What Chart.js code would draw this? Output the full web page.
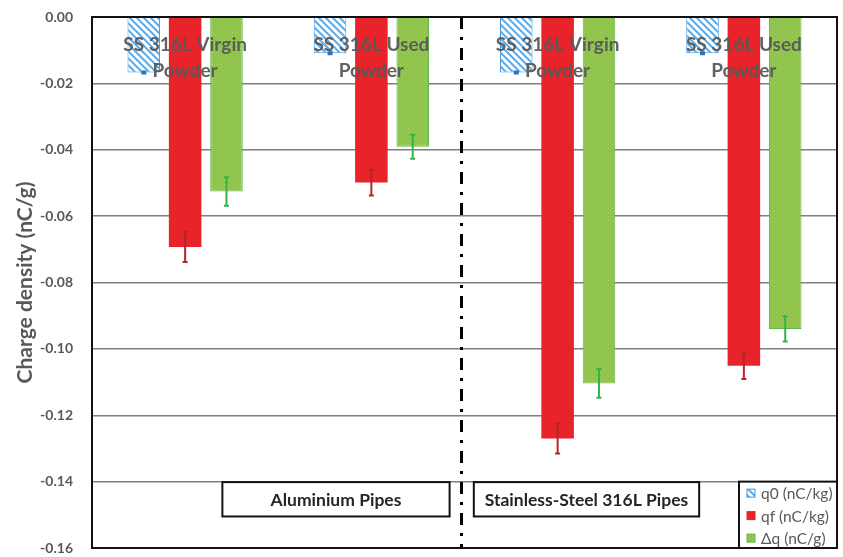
<!DOCTYPE html>
<html>
<head>
<meta charset="utf-8">
<script src="https://cdn.jsdelivr.net/npm/chart.js@4.4.1/dist/chart.umd.min.js"></script>
<style>
  html, body { margin: 0; padding: 0; background: #ffffff; }
  #wrap { width: 843px; height: 557px; position: relative; }
</style>
</head>
<body>
<div id="wrap"><canvas id="chart" width="843" height="557"></canvas></div>
<script>
// Powder samples (category axis)
const categories = [
  ["SS 316L Virgin", "Powder"],
  ["SS 316L Used", "Powder"],
  ["SS 316L Virgin", "Powder"],
  ["SS 316L Used", "Powder"]
];

// Series labels
const seriesLabels = ["q0 (nC/kg)", "qf (nC/kg)", "\u0394q (nC/g)"];

// Initial charge density q0
const q0Values = [-0.0167, -0.0109, -0.0167, -0.0109];
const q0Errors = [0.0003, 0.0003, 0.0003, 0.0003];

// Final charge density qf
const qfValues = [-0.0693, -0.0499, -0.1270, -0.1051];
const qfErrors = [0.0045, 0.0039, 0.0045, 0.0040];

// Charge gained during transport, delta q
const dqValues = [-0.0526, -0.0391, -0.1104, -0.0940];
const dqErrors = [0.0043, 0.0036, 0.0043, 0.0038];

// Pipe material groups (first two samples / last two samples)
const pipeGroups = ["Aluminium Pipes", "Stainless-Steel 316L Pipes"];

// Value axis
const yAxisTitle = "Charge density (nC/g)";
const yMin = -0.16, yMax = 0, yStep = 0.02;

const FONT = "Lato, 'Open Sans', sans-serif";
const GREY = "#595959";

// Blue diagonal hatching for q0
function hatchPattern() {
  const c = document.createElement("canvas");
  c.width = 7; c.height = 7;
  const g = c.getContext("2d");
  g.fillStyle = "#ffffff";
  g.fillRect(0, 0, 7, 7);
  g.strokeStyle = "#5badea";
  g.lineWidth = 2;
  g.beginPath();
  g.moveTo(-1, -1); g.lineTo(8, 8);
  g.moveTo(-8, -1); g.lineTo(1, 8);
  g.moveTo(6, -1); g.lineTo(15, 8);
  g.stroke();
  return g.createPattern(c, "repeat");
}

// Speckled green fill for delta q
function dottedPattern() {
  const c = document.createElement("canvas");
  c.width = 4; c.height = 4;
  const g = c.getContext("2d");
  g.fillStyle = "#8cc63f";
  g.fillRect(0, 0, 4, 4);
  g.fillStyle = "#a9d56e";
  g.fillRect(0, 0, 1, 1);
  g.fillRect(2, 2, 1, 1);
  return g.createPattern(c, "repeat");
}

const hatch = hatchPattern();
const dotted = dottedPattern();

// Error bars with short caps
const errorBars = {
  id: "errorBars",
  afterDatasetsDraw(chart) {
    const y = chart.scales.y;
    const ctx = chart.ctx;
    chart.data.datasets.forEach((ds, di) => {
      const meta = chart.getDatasetMeta(di);
      ctx.save();
      ctx.strokeStyle = ds.errorColor;
      ctx.lineWidth = 2;
      meta.data.forEach((bar, i) => {
        const v = ds.data[i], e = ds.errors[i];
        const y1 = y.getPixelForValue(v + e);
        const y2 = y.getPixelForValue(v - e);
        ctx.beginPath();
        ctx.moveTo(bar.x, y1); ctx.lineTo(bar.x, y2);
        ctx.moveTo(bar.x - 2.5, y1); ctx.lineTo(bar.x + 2.5, y1);
        ctx.moveTo(bar.x - 2.5, y2); ctx.lineTo(bar.x + 2.5, y2);
        ctx.stroke();
      });
      ctx.restore();
    });
  }
};

// Category names, group separator, group boxes, legend and frame
const overlay = {
  id: "overlay",
  afterDraw(chart) {
    const ctx = chart.ctx;
    const x = chart.scales.x, y = chart.scales.y;
    const a = chart.chartArea;
    ctx.save();

    // sample names written across the top of each group of bars
    ctx.fillStyle = "rgba(89,89,89,0.95)";
    ctx.font = "bold 19px " + FONT;
    ctx.textAlign = "center";
    ctx.textBaseline = "middle";
    categories.forEach((lines, i) => {
      const cx = x.getPixelForValue(i);
      lines.forEach((t, k) => ctx.fillText(t, cx, a.top + 28 + k * 26));
    });

    // dash-dot separator between the two pipe materials
    const sepX = (x.getPixelForValue(1) + x.getPixelForValue(2)) / 2 - 3;
    ctx.strokeStyle = "#000000";
    ctx.lineWidth = 3;
    ctx.setLineDash([12, 8, 3, 8]);
    ctx.beginPath();
    ctx.moveTo(sepX, a.top);
    ctx.lineTo(sepX, a.bottom);
    ctx.stroke();
    ctx.setLineDash([]);

    // pipe material boxes
    const boxTop = y.getPixelForValue(-0.14) + 0.5;
    const boxBot = y.getPixelForValue(-0.1505);
    const w = x.getPixelForValue(1) - x.getPixelForValue(0);
    const boxes = [
      [x.getPixelForValue(0) + 0.2 * w, x.getPixelForValue(1) + 0.42 * w],
      [x.getPixelForValue(2) - 0.45 * w, x.getPixelForValue(2) + 0.76 * w]
    ];
    ctx.lineWidth = 2;
    ctx.font = "bold 17.5px " + FONT;
    boxes.forEach((b, i) => {
      ctx.fillStyle = "#ffffff";
      ctx.fillRect(b[0], boxTop, b[1] - b[0], boxBot - boxTop);
      ctx.strokeStyle = "#111111";
      ctx.strokeRect(b[0], boxTop, b[1] - b[0], boxBot - boxTop);
      ctx.fillStyle = "#262626";
      ctx.fillText(pipeGroups[i], (b[0] + b[1]) / 2, (boxTop + boxBot) / 2 + 1);
    });

    // legend
    const lx = a.right - 98, ly = y.getPixelForValue(-0.14);
    ctx.fillStyle = "#ffffff";
    ctx.fillRect(lx, ly, a.right - lx, a.bottom - ly);
    ctx.strokeStyle = "#111111";
    ctx.strokeRect(lx, ly, a.right - lx, a.bottom - ly);
    ctx.textAlign = "left";
    ctx.font = "15.5px " + FONT;
    chart.data.datasets.forEach((ds, i) => {
      const cy = ly + 11.5 + i * 22.5;
      ctx.fillStyle = ds.backgroundColor;
      ctx.fillRect(lx + 8, cy - 4, 8, 8);
      ctx.strokeStyle = ds.borderColor;
      ctx.lineWidth = 1;
      ctx.strokeRect(lx + 8, cy - 4, 8, 8);
      ctx.fillStyle = GREY;
      ctx.fillText(ds.label, lx + 22, cy + 1);
    });

    // plot frame
    ctx.strokeStyle = "#111111";
    ctx.lineWidth = 2;
    ctx.strokeRect(a.left, a.top, a.right - a.left, a.bottom - a.top);
    ctx.restore();
  }
};

new Chart(document.getElementById("chart"), {
  type: "bar",
  data: {
    labels: categories,
    datasets: [
      { label: seriesLabels[0], data: q0Values, errors: q0Errors,
        backgroundColor: hatch, borderColor: "#4a94dc", borderWidth: 1,
        errorColor: "#2a6fc9" },
      { label: seriesLabels[1], data: qfValues, errors: qfErrors,
        backgroundColor: "#e8232a", borderColor: "#e8232a", borderWidth: 0,
        errorColor: "#b8232b" },
      { label: seriesLabels[2], data: dqValues, errors: dqErrors,
        backgroundColor: dotted, borderColor: "#5fb847", borderWidth: 1,
        errorColor: "#33b34a" }
    ]
  },
  options: {
    responsive: false,
    animation: false,
    layout: { padding: { left: 0, right: 6, top: 17, bottom: 9 } },
    datasets: { bar: { categoryPercentage: 0.666, barPercentage: 0.787 } },
    plugins: { legend: { display: false }, tooltip: { enabled: false } },
    scales: {
      x: { display: false },
      y: {
        min: yMin, max: yMax,
        afterFit(scale) { scale.width = 92; },
        border: { display: false },
        grid: { color: "#7f7f7f", lineWidth: 1.5, drawTicks: true,
                tickLength: 19, tickColor: "rgba(0,0,0,0)" },
        ticks: {
          stepSize: yStep,
          padding: 0,
          color: GREY,
          font: { family: FONT, size: 14, weight: "bold" },
          callback: v => v.toFixed(2)
        },
        title: {
          display: true, text: yAxisTitle, color: GREY,
          padding: { top: 13, bottom: 0 },
          font: { family: FONT, size: 21, weight: "bold" }
        }
      }
    }
  },
  plugins: [errorBars, overlay]
});
</script>
</body>
</html>
